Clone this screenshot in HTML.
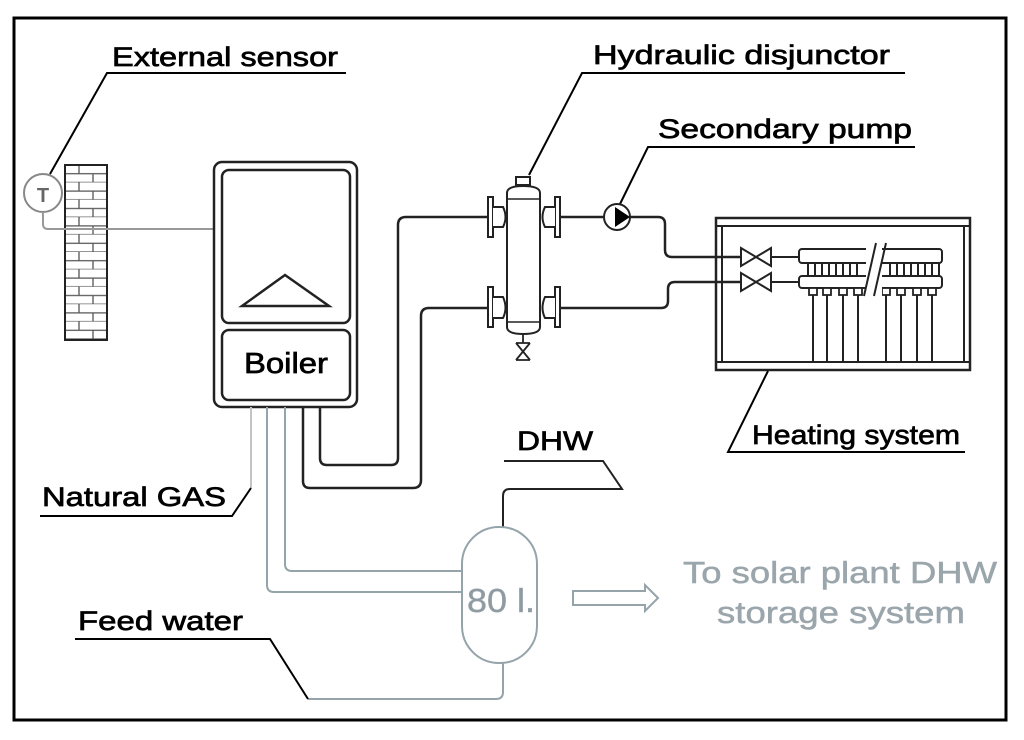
<!DOCTYPE html>
<html><head><meta charset="utf-8"><style>
html,body{margin:0;padding:0;background:#fff}
svg{display:block}
text{font-family:"Liberation Sans",sans-serif}
.b{stroke:#000;stroke-width:0.7}
.g{stroke:#9aa6ac;stroke-width:0.5}
</style></head><body>
<svg width="1024" height="740" viewBox="0 0 1024 740" xmlns="http://www.w3.org/2000/svg">
<defs>
<pattern id="brick" x="65" y="165" width="42" height="17.4" patternUnits="userSpaceOnUse">
<rect width="42" height="17.4" fill="#fff"/>
<path d="M0 8.7H42M0 17.4H42M14 0V8.7M28 8.7V17.4" stroke="#555" stroke-width="1.3" fill="none"/>
</pattern>
</defs>
<rect width="1024" height="740" fill="#fff"/>
<rect x="14" y="18" width="992" height="702" fill="none" stroke="#000" stroke-width="3"/>

<text class="b" x="112" y="66" font-size="27" textLength="226" lengthAdjust="spacingAndGlyphs">External sensor</text>
<path d="M346 73H107L50 174" fill="none" stroke="#000" stroke-width="2"/>
<circle cx="43" cy="193" r="19" fill="#fff" stroke="#888" stroke-width="2"/>
<text x="43" y="202" font-size="20" font-weight="bold" fill="#666" text-anchor="middle">T</text>
<rect x="65" y="165" width="42" height="175" fill="url(#brick)" stroke="#222" stroke-width="2"/>
<path d="M43 212V224Q43 229 48 229H214" fill="none" stroke="#999" stroke-width="2"/>

<rect x="214" y="162" width="143" height="245" rx="8" fill="#fff" stroke="#222" stroke-width="2.5"/>
<rect x="222" y="170" width="128" height="153" rx="7" fill="none" stroke="#222" stroke-width="2.5"/>
<path d="M242 306L285 275L329 306Z" fill="none" stroke="#222" stroke-width="2.5"/>
<rect x="222" y="330" width="128" height="70" rx="7" fill="none" stroke="#222" stroke-width="2.5"/>
<text class="b" x="286" y="373" font-size="29" text-anchor="middle" textLength="84" lengthAdjust="spacingAndGlyphs">Boiler</text>

<path d="M251 407V488" stroke="#c4c4c4" stroke-width="2" fill="none"/>
<path d="M267 407V585Q267 592 274 592H462" stroke="#95a3aa" stroke-width="2" fill="none"/>
<path d="M285 407V564Q285 571 292 571H462" stroke="#95a3aa" stroke-width="2" fill="none"/>
<path d="M303 407V481Q303 488 310 488H413Q421 488 421 480V316Q421 308 429 308H491" stroke="#222" stroke-width="2.5" fill="none"/>
<path d="M320 407V458Q320 465 327 465H391Q398 465 398 458V225Q398 217 406 217H491" stroke="#222" stroke-width="2.5" fill="none"/>

<text class="b" x="593" y="64" font-size="27" textLength="297" lengthAdjust="spacingAndGlyphs">Hydraulic disjunctor</text>
<path d="M905 73H582L529 175" fill="none" stroke="#000" stroke-width="2"/>
<rect x="516" y="177" width="14" height="8" fill="#fff" stroke="#222" stroke-width="2"/>
<path d="M507 193Q507 186 523 186Q540 186 540 193V327Q540 334 523 334Q507 334 507 327Z" fill="#fff" stroke="#222" stroke-width="2"/>
<path d="M507 199H540" stroke="#222" stroke-width="1.5"/>
<path d="M507 322H540" stroke="#222" stroke-width="1.5"/>
<g fill="#fff" stroke="#222" stroke-width="2">
<rect x="488" y="197" width="5" height="40"/><rect x="555" y="197" width="5" height="40"/>
<rect x="488" y="287" width="5" height="40"/><rect x="555" y="287" width="5" height="40"/>
<path d="M493 207H503Q508 217 503 227H493"/><path d="M555 207H545Q540 217 545 227H555"/>
<path d="M493 297H503Q508 308 503 318H493"/><path d="M555 297H545Q540 308 545 318H555"/>
</g>
<path d="M523 334V343M516 343L530 360M516 360L530 343M516 343H530M516 360H530" stroke="#222" stroke-width="1.8" fill="none"/>

<text class="b" x="658" y="138" font-size="27" textLength="254" lengthAdjust="spacingAndGlyphs">Secondary pump</text>
<path d="M915 147H648L620 204" fill="none" stroke="#000" stroke-width="2"/>
<path d="M560 217H604" stroke="#222" stroke-width="2.5"/>
<circle cx="617" cy="217" r="13" fill="#fff" stroke="#222" stroke-width="2"/>
<path d="M615 207L630 217L615 227Z" fill="#000"/>
<path d="M630 217H658Q665 217 665 224V250Q665 257 672 257H741" stroke="#222" stroke-width="2.5" fill="none"/>
<path d="M560 308H661Q668 308 668 301V289Q668 282 675 282H741" stroke="#222" stroke-width="2.5" fill="none"/>
<path d="M741 248V266L771 248V266Z" fill="#fff" stroke="#222" stroke-width="2"/>
<path d="M741 273V291L771 273V291Z" fill="#fff" stroke="#222" stroke-width="2"/>
<path d="M771 257H799M771 282H799" stroke="#222" stroke-width="2"/>

<rect x="716" y="218" width="254" height="152" fill="none" stroke="#222" stroke-width="2.5"/>
<path d="M716 226H970M716 362H970M722 226V362M964 226V362" stroke="#222" stroke-width="2"/>
<g fill="#fff" stroke="#222" stroke-width="2">
<rect x="799" y="249" width="143" height="14" rx="3"/>
<rect x="799" y="276" width="143" height="12" rx="3"/>
<rect x="808" y="263" width="7" height="13"/><rect x="822" y="263" width="7" height="13"/>
<rect x="836" y="263" width="7" height="13"/><rect x="850" y="263" width="7" height="13"/>
<rect x="890" y="263" width="7" height="13"/><rect x="904" y="263" width="7" height="13"/>
<rect x="918" y="263" width="7" height="13"/><rect x="932" y="263" width="7" height="13"/>
</g>
<g fill="#fff" stroke="#222" stroke-width="1.8">
<rect x="809" y="288" width="8" height="7"/><rect x="823" y="288" width="8" height="7"/>
<rect x="839" y="288" width="8" height="7"/><rect x="854" y="288" width="8" height="7"/>
<rect x="882" y="288" width="8" height="7"/><rect x="897" y="288" width="8" height="7"/>
<rect x="913" y="288" width="8" height="7"/><rect x="928" y="288" width="8" height="7"/>
</g>
<path d="M813 295V362M827 295V362M843 295V362M858 295V362M886 295V362M901 295V362M917 295V362M932 295V362" stroke="#222" stroke-width="2"/>
<rect x="866" y="244" width="16" height="52" fill="#fff"/>
<path d="M864 296L876 243M874 296L886 243" stroke="#222" stroke-width="2"/>

<text class="b" x="752" y="444" font-size="27" textLength="208" lengthAdjust="spacingAndGlyphs">Heating system</text>
<path d="M768 371L728 452H965" fill="none" stroke="#000" stroke-width="2"/>

<text class="b" x="517" y="450" font-size="27" textLength="76" lengthAdjust="spacingAndGlyphs">DHW</text>
<path d="M504 461H603L622 489H510Q503 489 503 496V527" fill="none" stroke="#222" stroke-width="2"/>
<rect x="462" y="527" width="75" height="136" rx="37" fill="#fff" stroke="#95a3aa" stroke-width="2"/>
<text class="g" x="501" y="612" font-size="33" fill="#8e9ba2" text-anchor="middle" textLength="68" lengthAdjust="spacingAndGlyphs">80 l.</text>
<path d="M503 663V692Q503 699 496 699H308" fill="none" stroke="#95a3aa" stroke-width="2"/>
<path d="M308 699L270 639H75" fill="none" stroke="#000" stroke-width="2"/>
<text class="b" x="78" y="630" font-size="27" textLength="165" lengthAdjust="spacingAndGlyphs">Feed water</text>

<path d="M573 591H645V585L658 598L645 611V605H573Z" fill="none" stroke="#95a3aa" stroke-width="2"/>
<text class="g" x="683" y="583" font-size="31" fill="#9aa6ac" textLength="314" lengthAdjust="spacingAndGlyphs">To solar plant DHW</text>
<text class="g" x="717" y="623" font-size="31" fill="#9aa6ac" textLength="248" lengthAdjust="spacingAndGlyphs">storage system</text>

<text class="b" x="42" y="506" font-size="27" textLength="184" lengthAdjust="spacingAndGlyphs">Natural GAS</text>
<path d="M40 516H232L251 488" fill="none" stroke="#000" stroke-width="2"/>
</svg>
</body></html>
